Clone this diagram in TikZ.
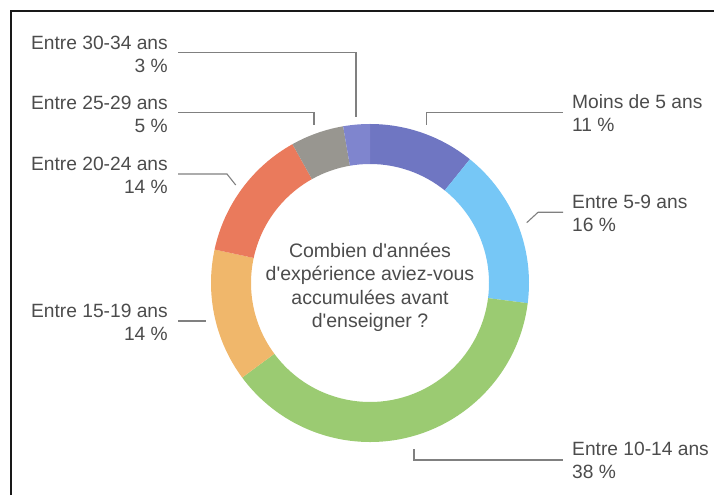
\documentclass[tikz,border=0pt]{standalone}
\usepackage{fontspec}
\setmainfont{Liberation Sans}[Ligatures=TeXOff]
\begin{document}
\definecolor{sliceA}{HTML}{6F76C2}
\definecolor{sliceB}{HTML}{76C7F6}
\definecolor{sliceC}{HTML}{9BCB72}
\definecolor{sliceD}{HTML}{F0B76B}
\definecolor{sliceE}{HTML}{EA7A5C}
\definecolor{sliceF}{HTML}{989690}
\definecolor{sliceG}{HTML}{7F85CE}
\definecolor{txt}{HTML}{4C4C4C}
\definecolor{lead}{HTML}{808080}
\begin{tikzpicture}[x=1pt,y=1pt,
  leader/.style={draw=lead,line width=1.1pt},
  lblright/.style={anchor=west,inner sep=0pt,align=left,text=txt,
    font=\fontsize{19.2}{23}\selectfont},
  lblleft/.style={anchor=east,inner sep=0pt,align=right,text=txt,
    font=\fontsize{19.2}{23}\selectfont},
  question/.style={inner sep=0pt,align=center,text=txt,
    font=\fontsize{19.5}{23.5}\selectfont}]
\useasboundingbox (0,0) rectangle (714,495);

% frame
\draw[line width=2.2pt,black!90] (11,0) -- (11,484) -- (714,484);

% donut ring, clockwise from the top (n = 37)
\coordinate (C) at (370,212);
\foreach \a/\b/\c in {90/51.08/sliceA, 51.08/-7.30/sliceB, -7.30/-143.51/sliceC,
    -143.51/-192.16/sliceD, -192.16/-240.81/sliceE, -240.81/-260.27/sliceF,
    -260.27/-270/sliceG}
  \fill[\c] ([shift={(C)}]\a:159) arc[start angle=\a, end angle=\b, radius=159]
    -- ([shift={(C)}]\b:119) arc[start angle=\b, end angle=\a, radius=119] -- cycle;

\node[question] (q) at (370,207.6)
  {Combien d'années\\d'expérience aviez-vous\\accumulées avant\\d'enseigner ?};

% labels
\node[lblright] (l1) at (572,381.5) {Moins de 5 ans\\11 \%};
\node[lblright] (l2) at (572,281.5) {Entre 5-9 ans\\16 \%};
\node[lblright] (l3) at (572,34.5) {Entre 10-14 ans\\38 \%};
\node[lblleft] (l4) at (168,173) {Entre 15-19 ans\\14 \%};
\node[lblleft] (l5) at (168,319.5) {Entre 20-24 ans\\14 \%};
\node[lblleft] (l6) at (168,381) {Entre 25-29 ans\\5 \%};
\node[lblleft] (l7) at (168,440.5) {Entre 30-34 ans\\3 \%};

% leader lines
\coordinate (s1) at (426.5,370);   \coordinate (e1) at (563,382.5);
\coordinate (s2) at (526.7,272.3); \coordinate (c2) at (538,282.7); \coordinate (e2) at (563,282.7);
\coordinate (s3) at (414,46);      \coordinate (e3) at (563,35);
\coordinate (s4) at (205.7,174);   \coordinate (e4) at (178,174);
\coordinate (s5) at (235.7,310);   \coordinate (c5) at (227,321);   \coordinate (e5) at (178,321);
\coordinate (s6) at (314,370);     \coordinate (e6) at (178,382.7);
\coordinate (s7) at (356,378);     \coordinate (e7) at (178,442.7);

\draw[leader] (s1) |- (e1);
\draw[leader] (s2) -- (c2) -- (e2);
\draw[leader] (s3) |- (e3);
\draw[leader] (s4) -- (e4);
\draw[leader] (s5) -- (c5) -- (e5);
\draw[leader] (s6) |- (e6);
\draw[leader] (s7) |- (e7);
\end{tikzpicture}
\end{document}
